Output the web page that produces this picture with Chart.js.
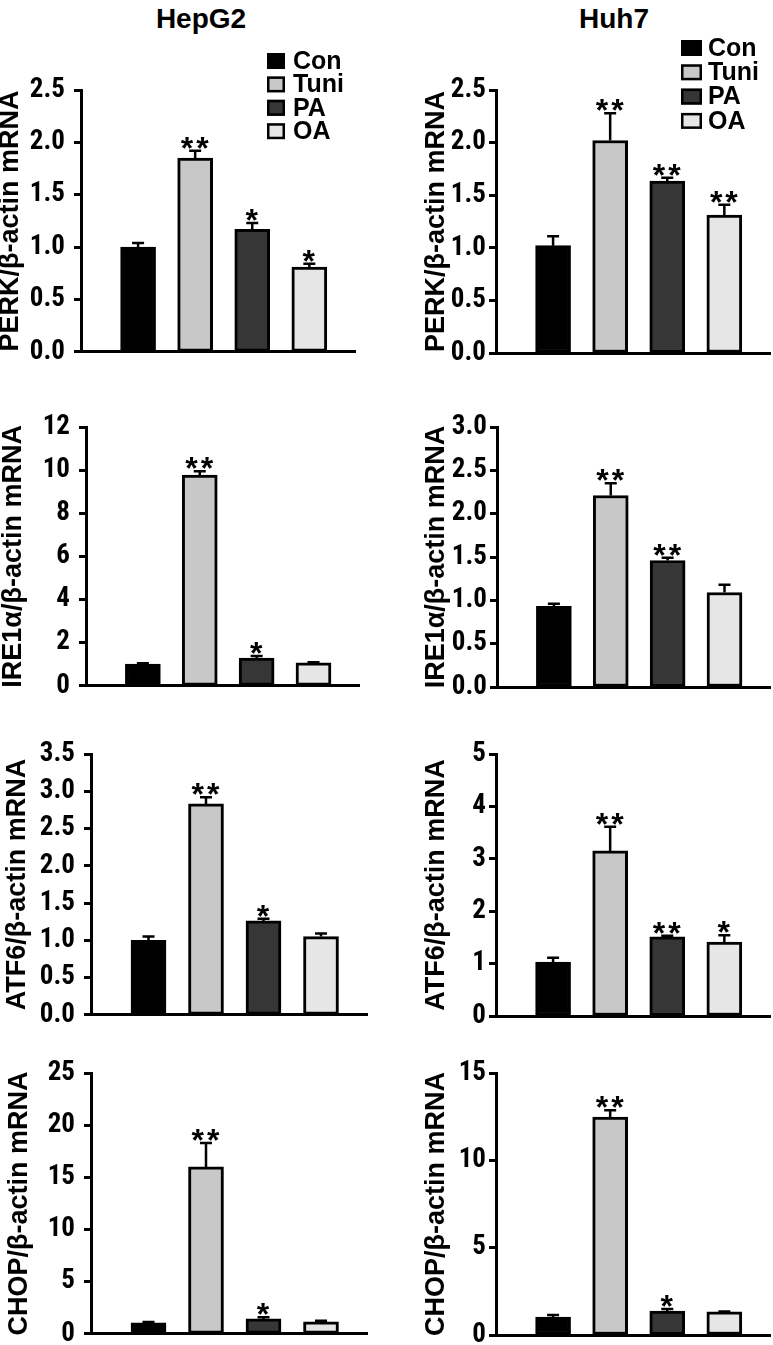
<!DOCTYPE html>
<html>
<head>
<meta charset="utf-8">
<script src="https://cdn.jsdelivr.net/npm/chart.js@4/dist/chart.umd.min.js"></script>
<style>
  body { margin: 0; background: #fff; width: 773px; height: 1345px; position: relative; overflow: hidden; }
  canvas { position: absolute; }
  .cell-title { position: absolute; font: bold 28px "Liberation Sans", Arial, sans-serif; color: #000; transform: translateX(-50%); line-height: 28px; }
</style>
</head>
<body>
<script>
// ---- data ----
const groups = ["Con", "Tuni", "PA", "OA"];
const genes = ["PERK", "IRE1α", "ATF6", "CHOP"];
const cellLines = ["HepG2", "Huh7"];

const hepg2Means = [
  [1.00, 1.85, 1.17, 0.81],
  [1.01, 9.77, 1.29, 1.06],
  [1.00, 2.83, 1.26, 1.05],
  [1.05, 16.0, 1.43, 1.14],
];
const hepg2Errors = [
  [0.04, 0.07, 0.06, 0.03],
  [0.04, 0.18, 0.09, 0.03],
  [0.05, 0.09, 0.03, 0.04],
  [0.07, 2.3, 0.15, 0.1],
];
const hepg2Stars = [
  ["", "**", "*", "*"],
  ["", "**", "*", ""],
  ["", "**", "*", ""],
  ["", "**", "*", ""],
];
const hepg2Max = [2.5, 12, 3.5, 25];
const hepg2Step = [0.5, 2, 0.5, 5];

const huh7Means = [
  [1.02, 2.02, 1.635, 1.31],
  [0.93, 2.21, 1.46, 1.09],
  [1.03, 3.15, 1.51, 1.41],
  [1.03, 12.47, 1.37, 1.32],
];
const huh7Errors = [
  [0.09, 0.26, 0.03, 0.1],
  [0.03, 0.14, 0.03, 0.09],
  [0.08, 0.46, 0.02, 0.13],
  [0.11, 0.4, 0.12, 0.02],
];
const huh7Stars = [
  ["", "**", "**", "**"],
  ["", "**", "**", ""],
  ["", "**", "**", "*"],
  ["", "**", "*", ""],
];
const huh7Max = [2.5, 3.0, 5, 15];
const huh7Step = [0.5, 0.5, 1, 5];

// ---- layout / style ----
const groupColors = ["#000000", "#c8c8c8", "#363636", "#e6e6e6"];
const colLeft = [0, 390];
const colWidth = [385, 383];
const rowTop = [90, 427, 754, 1073];
const rowBottom = [353, 687, 1016, 1335];
const bottomPad = 24;
const axisXs = [[81, 86, 91, 91], [496, 497, 496, 496]];
const axisRight = [[355, 359, 367, 367], [770, 770, 770, 770]];
const titleCenters = [[11, 14, 18, 20], [47, 47, 47, 47]];
const tickPadding = [9, 3];
const titleX = [201, 614];
const tickFont = { family: '"Roboto Condensed", "DejaVu Sans Condensed", sans-serif', size: 27, weight: "bold" };
const labelFont = '"Liberation Sans", Arial, sans-serif';

// error bars + significance stars
const errorBarPlugin = {
  id: "errorBars",
  afterDatasetsDraw(chart) {
    const { ctx } = chart;
    const x = chart.scales.x, y = chart.scales.y;
    ctx.save();
    ctx.strokeStyle = "#000";
    ctx.lineWidth = 2.5;
    chart.data.datasets.forEach((ds) => {
      const pt = ds.data[0];
      const px = x.getPixelForValue(pt.x);
      const yMean = y.getPixelForValue(pt.y);
      const yTop = y.getPixelForValue(pt.y + ds.err);
      ctx.beginPath();
      ctx.moveTo(px, yMean);
      ctx.lineTo(px, yTop);
      ctx.moveTo(px - 6, yTop);
      ctx.lineTo(px + 6, yTop);
      ctx.stroke();
      if (ds.star) {
        ctx.fillStyle = "#000";
        ctx.font = "bold 32px " + labelFont;
        ctx.textAlign = "center";
        ctx.textBaseline = "alphabetic";
        ctx.letterSpacing = "3px";
        ctx.fillText(ds.star, px + 1, yTop - 6 + 14);
      }
    });
    ctx.restore();
  },
};

// legend with boxed swatches, placed over the upper right corner
const boxLegendPlugin = {
  id: "boxLegend",
  afterDraw(chart, args, opts) {
    if (!opts || !opts.show) return;
    const { ctx } = chart;
    ctx.save();
    chart.data.datasets.forEach((ds, i) => {
      const yc = opts.y + i * opts.gap;
      ctx.fillStyle = ds.backgroundColor;
      ctx.fillRect(opts.x, yc - opts.h / 2, opts.w, opts.h);
      ctx.lineWidth = 2.5;
      ctx.strokeStyle = "#000";
      ctx.strokeRect(opts.x + 1.25, yc - opts.h / 2 + 1.25, opts.w - 2.5, opts.h - 2.5);
      ctx.fillStyle = "#000";
      ctx.font = "bold 25px " + labelFont;
      ctx.textBaseline = "middle";
      ctx.textAlign = "left";
      ctx.fillText(ds.label, opts.x + opts.w + opts.textGap, yc + 1);
    });
    ctx.restore();
  },
};

const legendOpts = [
  { show: true, x: 267, y: 61, w: 18, h: 16, gap: 23.4, textGap: 8 },
  { show: true, x: 291, y: 48, w: 21, h: 16, gap: 24.3, textGap: 6 },
];

function drawPanel(col, row, means, errors, stars, max, step) {
  const top = row === 0 ? 0 : rowTop[row] - 55;
  const height = rowBottom[row] + bottomPad - top;
  const canvas = document.createElement("canvas");
  canvas.width = colWidth[col];
  canvas.height = height;
  canvas.style.left = colLeft[col] + "px";
  canvas.style.top = top + "px";
  document.body.appendChild(canvas);

  const yAxisWidth = axisXs[col][row] - colLeft[col];
  const padRight = colWidth[col] - (axisRight[col][row] - colLeft[col]);
  const titleSize = 27;

  new Chart(canvas.getContext("2d"), {
    type: "bar",
    data: {
      datasets: groups.map((g, i) => ({
        label: g,
        data: [{ x: i + 1, y: means[i] }],
        err: errors[i],
        star: stars[i],
        backgroundColor: groupColors[i],
        borderColor: "#000",
        borderWidth: 3,
        borderSkipped: false,
        barThickness: 35,
        grouped: false,
      })),
    },
    options: {
      responsive: false,
      animation: false,
      devicePixelRatio: 1,
      layout: { padding: { top: rowTop[row] - top, bottom: bottomPad, left: 0, right: padRight } },
      plugins: {
        legend: { display: false },
        tooltip: { enabled: false },
        boxLegend: row === 0 ? legendOpts[col] : { show: false },
      },
      scales: {
        x: {
          type: "linear",
          min: 0,
          max: 4.8,
          offset: false,
          grid: { display: false, drawTicks: false },
          ticks: { display: false },
          border: { display: true, width: 3, color: "#000" },
          afterFit: (s) => { s.height = 0; },
        },
        y: {
          min: 0,
          max: max,
          ticks: {
            stepSize: step,
            color: "#000",
            font: tickFont,
            padding: tickPadding[col],
            callback: (v) => (step < 1 ? v.toFixed(1) : String(v)),
          },
          grid: { drawOnChartArea: false, drawTicks: true, tickLength: 7, tickWidth: 3, color: "#000" },
          border: { display: true, width: 3, color: "#000" },
          title: {
            display: true,
            text: genes[row] + "/β-actin mRNA",
            color: "#000",
            font: { family: labelFont, size: titleSize, weight: "bold", lineHeight: 1 },
            padding: { top: titleCenters[col][row] - titleSize / 2, bottom: 0 },
          },
          afterFit: (s) => { s.width = yAxisWidth; },
        },
      },
    },
    plugins: [errorBarPlugin, boxLegendPlugin],
  });
}

cellLines.forEach((name, col) => {
  const t = document.createElement("div");
  t.className = "cell-title";
  t.textContent = name;
  t.style.left = titleX[col] + "px";
  t.style.top = "5px";
  document.body.appendChild(t);
});

for (let row = 0; row < 4; row++) {
  drawPanel(0, row, hepg2Means[row], hepg2Errors[row], hepg2Stars[row], hepg2Max[row], hepg2Step[row]);
  drawPanel(1, row, huh7Means[row], huh7Errors[row], huh7Stars[row], huh7Max[row], huh7Step[row]);
}
</script>
</body>
</html>
